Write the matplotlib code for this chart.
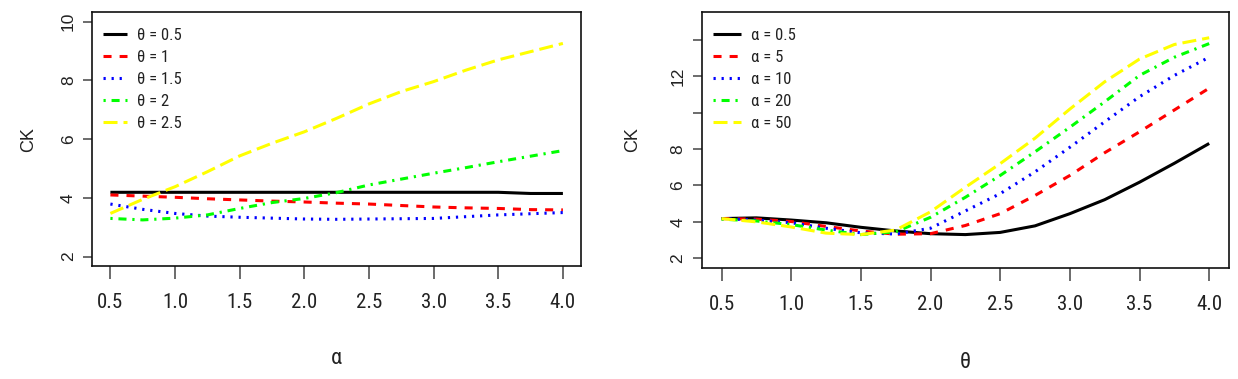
import matplotlib
matplotlib.use('Agg')
import matplotlib.pyplot as plt
from matplotlib import font_manager as fm


def pick(names):
    for n in names:
        try:
            fm.findfont(fm.FontProperties(family=n), fallback_to_default=False)
            return n
        except Exception:
            pass
    return 'DejaVu Sans'


NARROW = pick(['Liberation Sans Narrow', 'Roboto Condensed', 'DejaVu Sans'])
REG = pick(['Liberation Sans', 'Arial', 'DejaVu Sans'])
plt.rcParams['lines.scale_dashes'] = False

# ---------------- data ----------------
grid = [0.5, 0.75, 1.0, 1.25, 1.5, 1.75, 2.0, 2.25, 2.5, 2.75, 3.0, 3.25, 3.5, 3.75, 4.0]

# Left panel: CK vs alpha for several theta
left_labels = ['θ = 0.5', 'θ = 1', 'θ = 1.5', 'θ = 2', 'θ = 2.5']
ck_theta_05 = [4.19, 4.19, 4.19, 4.19, 4.19, 4.19, 4.19, 4.19, 4.19, 4.19, 4.19, 4.19, 4.19, 4.15, 4.15]
ck_theta_1 = [4.10, 4.06, 4.02, 3.97, 3.93, 3.89, 3.86, 3.82, 3.79, 3.74, 3.69, 3.66, 3.64, 3.60, 3.59]
ck_theta_15 = [3.79, 3.61, 3.47, 3.38, 3.34, 3.31, 3.28, 3.27, 3.28, 3.29, 3.30, 3.36, 3.42, 3.46, 3.50]
ck_theta_2 = [3.30, 3.25, 3.31, 3.42, 3.64, 3.84, 3.98, 4.18, 4.44, 4.64, 4.84, 5.03, 5.23, 5.42, 5.61]
ck_theta_25 = [3.47, 3.95, 4.38, 4.89, 5.43, 5.86, 6.25, 6.71, 7.20, 7.62, 7.96, 8.35, 8.70, 8.98, 9.26]

# Right panel: CK vs theta for several alpha
right_labels = ['α = 0.5', 'α = 5', 'α = 10', 'α = 20', 'α = 50']
ck_alpha_05 = [4.18, 4.22, 4.10, 3.95, 3.70, 3.50, 3.35, 3.30, 3.42, 3.78, 4.45, 5.22, 6.18, 7.22, 8.31]
ck_alpha_5 = [4.18, 4.15, 4.02, 3.75, 3.50, 3.32, 3.35, 3.80, 4.45, 5.45, 6.55, 7.80, 8.95, 10.15, 11.35]
ck_alpha_10 = [4.18, 4.10, 3.95, 3.65, 3.40, 3.33, 3.65, 4.60, 5.55, 6.75, 8.10, 9.50, 10.88, 12.05, 13.05]
ck_alpha_20 = [4.15, 4.05, 3.85, 3.55, 3.30, 3.45, 4.25, 5.35, 6.55, 7.85, 9.20, 10.60, 12.05, 13.05, 13.80]
ck_alpha_50 = [4.18, 4.00, 3.72, 3.38, 3.30, 3.55, 4.55, 5.90, 7.20, 8.60, 10.20, 11.70, 12.95, 13.75, 14.12]

xticks = [0.5, 1.0, 1.5, 2.0, 2.5, 3.0, 3.5, 4.0]
xticklabels = ['0.5', '1.0', '1.5', '2.0', '2.5', '3.0', '3.5', '4.0']
left_yticks = [2, 4, 6, 8, 10]
left_yticklabels = ['2', '4', '6', '8', '10']
right_yticks = [2, 4, 6, 8, 10, 12, 14]
right_yticklabels = ['2', '4', '6', '8', '', '12', '']

# ---------------- styles ----------------
colors = ['black', '#FF0000', '#0000FF', '#00FF00', '#FFFF00']
lw = 2.2
styles = ['-', (0, (5.8, 5.8)), (0, (1.6, 4.2)), (0, (1.6, 4.2, 5.8, 4.2)), (0, (10.1, 4.3))]

W, H = 1238, 379
fig = plt.figure(figsize=(W / 100, H / 100), dpi=100)


def box(x0, x1, ytop, ybot):
    return [x0 / W, 1 - ybot / H, (x1 - x0) / W, (ybot - ytop) / H]


axL = fig.add_axes(box(92.3, 581, 12.3, 266))
axR = fig.add_axes(box(702, 1228.7, 12.3, 267.7))

panels = [
    (axL, [ck_theta_05, ck_theta_1, ck_theta_15, ck_theta_2, ck_theta_25], left_labels,
     (2, 10), left_yticks, left_yticklabels, 'α', 64, 359 - 266, 0.022, 0.940, 1.45),
    (axR, [ck_alpha_05, ck_alpha_5, ck_alpha_10, ck_alpha_20, ck_alpha_50], right_labels,
     (2, 15), right_yticks, right_yticklabels, 'θ', 69, 362 - 267.7, 0.021, 0.938, 1.65),
]

txtcol = '#222222'
for ax, series, labels, ylim, yt, ytl, xlab, ylab_off, xlab_off, lx, ly, hl in panels:
    for s, c, ls, lab in zip(series, colors, styles, labels):
        ax.plot(grid, s, color=c, linestyle=ls, linewidth=lw, label=lab,
                dash_capstyle='butt', solid_capstyle='butt')
    xr = 4.0 - 0.5
    ax.set_xlim(0.5 - 0.04 * xr, 4.0 + 0.04 * xr)
    yr = ylim[1] - ylim[0]
    ax.set_ylim(ylim[0] - 0.04 * yr, ylim[1] + 0.04 * yr)
    ax.set_xticks(xticks)
    ax.set_xticklabels(xticklabels, fontfamily=NARROW, fontsize=15, color=txtcol)
    ax.set_yticks(yt)
    ax.set_yticklabels(ytl, fontfamily=REG, fontsize=12.5, color=txtcol,
                       rotation=90, va='center')
    ax.tick_params(axis='x', length=9.4, width=1.1, color='#444444', pad=10)
    ax.tick_params(axis='y', length=6.8, width=1.1, color='#444444', pad=5)
    for sp in ax.spines.values():
        sp.set_linewidth(1.2)
        sp.set_color('#111111')
    bb = ax.get_position()
    wpx = bb.width * W
    hpx = bb.height * H
    ax.set_ylabel('CK', fontfamily=REG, fontsize=13, color=txtcol)
    ax.yaxis.set_label_coords(-ylab_off / wpx, 0.5)
    ax.yaxis.label.set_va('center')
    ax.set_xlabel(xlab, fontfamily=NARROW, fontsize=16, color=txtcol)
    ax.xaxis.set_label_coords(0.5, -xlab_off / hpx)
    ax.xaxis.label.set_va('center')
    leg = ax.legend(loc='upper left', bbox_to_anchor=(lx, ly), frameon=False,
                    borderpad=0, borderaxespad=0, handlelength=hl, handletextpad=0.6,
                    labelspacing=0.42, prop={'family': NARROW, 'size': 12})
    for t in leg.get_texts():
        t.set_color(txtcol)

fig.savefig('out.png', dpi=100)
